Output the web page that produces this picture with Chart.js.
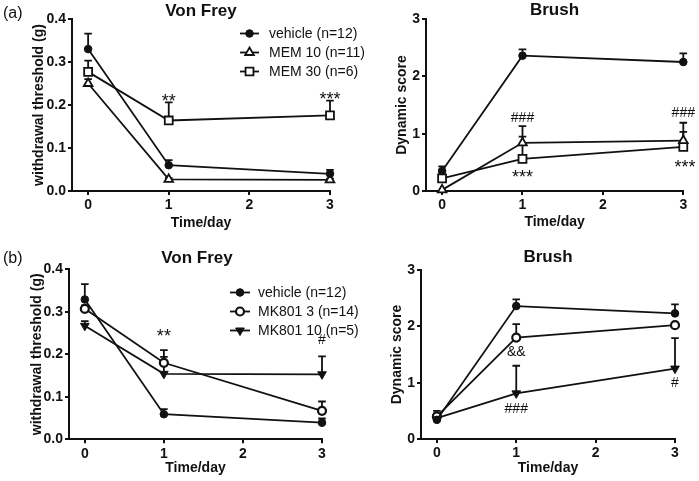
<!DOCTYPE html>
<html><head><meta charset="utf-8">
<script src="https://cdn.jsdelivr.net/npm/chart.js@4.4.1/dist/chart.umd.min.js"></script>
<style>
html,body{margin:0;padding:0;background:#fff;}
#wrap{position:relative;width:699px;height:481px;overflow:hidden;background:#fff;}
canvas{position:absolute;}
.lab{position:absolute;font:16px 'Liberation Sans',Arial,sans-serif;color:#111;line-height:18px;}
</style></head><body>
<div id="wrap">
<canvas id="c1" width="370" height="235" style="left:0px;top:0px"></canvas>
<canvas id="c2" width="349" height="235" style="left:350px;top:0px"></canvas>
<canvas id="c3" width="370" height="246" style="left:0px;top:235px"></canvas>
<canvas id="c4" width="349" height="246" style="left:350px;top:235px"></canvas>
<div class="lab" style="left:3px;top:4px">(a)</div>
<div class="lab" style="left:3px;top:249px">(b)</div>
</div>
<script>
// ---------- data ----------
const days = [0, 1, 3];
const xTicks = [0, 1, 2, 3];
const vfTicks = [0, 0.1, 0.2, 0.3, 0.4];
const brTicks = [0, 1, 2, 3];

const labelsA = ['vehicle (n=12)', 'MEM 10 (n=11)', 'MEM 30 (n=6)'];
const labelsB = ['vehicle (n=12)', 'MK801 3 (n=14)', 'MK801 10 (n=5)'];

// (a) Von Frey
const aVfVehicle = [0.33, 0.06, 0.04];
const aVfVehicleSem = [0.036, 0.012, 0.009];
const aVfMem10 = [0.25, 0.027, 0.026];
const aVfMem10Sem = [0.01, 0.003, 0.003];
const aVfMem30 = [0.277, 0.164, 0.176];
const aVfMem30Sem = [0.026, 0.042, 0.034];
const aVfNotes = [[1, 0.195, '**'], [3, 0.201, '***']];

// (a) Brush
const aBrVehicle = [0.35, 2.36, 2.25];
const aBrVehicleSem = [0.08, 0.11, 0.15];
const aBrMem10 = [0.02, 0.84, 0.88];
const aBrMem10Sem = [0.0, 0.29, 0.31];
const aBrMem30 = [0.22, 0.56, 0.77];
const aBrMem30Sem = [0.07, 0.39, 0.26];
const aBrNotes = [[1, 1.21, '###'], [1, 0.147, '***'], [3, 1.285, '###'], [3.02, 0.32, '***']];

// (b) Von Frey
const bVfVehicle = [0.329, 0.059, 0.039];
const bVfVehicleSem = [0.036, 0.012, 0.010];
const bVfMk3 = [0.307, 0.18, 0.067];
const bVfMk3Sem = [0.008, 0.03, 0.022];
const bVfMk10 = [0.267, 0.154, 0.153];
const bVfMk10Sem = [0.011, 0.04, 0.042];
const bVfNotes = [[1, 0.229, '**'], [3, 0.2235, '#']];

// (b) Brush
const bBrVehicle = [0.34, 2.36, 2.23];
const bBrVehicleSem = [0.16, 0.12, 0.16];
const bBrMk3 = [0.40, 1.80, 2.02];
const bBrMk3Sem = [0.05, 0.24, 0.03];
const bBrMk10 = [0.37, 0.81, 1.25];
const bBrMk10Sem = [0.05, 0.49, 0.54];
const bBrNotes = [[1, 1.47, '&&'], [1, 0.456, '###'], [3, 0.928, '#']];

// ---------- styles ----------
const INK = '#111';
const FONT = "'Liberation Sans', Arial, Helvetica, sans-serif";
const stVehicle = {pointStyle: 'circle', r: 3.8, fill: INK, bw: 1, rot: 0};
const stMem10 = {pointStyle: 'triangle', r: 5, fill: '#fff', bw: 1.8, rot: 0};
const stMem30 = {pointStyle: 'rect', r: 5.6, fill: '#fff', bw: 1.8, rot: 0};
const stMk3 = {pointStyle: 'circle', r: 4, fill: '#fff', bw: 2.2, rot: 0};
const stMk10 = {pointStyle: 'triangle', r: 5, fill: INK, bw: 1, rot: 180};

function drawMarker(ctx, st, x, y) {
  ctx.save();
  ctx.fillStyle = st.fill; ctx.strokeStyle = INK; ctx.lineWidth = st.bw;
  if (Chart.helpers && Chart.helpers.drawPoint) {
    Chart.helpers.drawPoint(ctx, {pointStyle: st.pointStyle, radius: st.r, rotation: st.rot, borderWidth: st.bw}, x, y);
  } else {
    ctx.beginPath(); ctx.arc(x, y, st.r, 0, Math.PI * 2); ctx.fill(); ctx.stroke();
  }
  ctx.restore();
}

const errPlugin = {
  id: 'errbars',
  beforeDatasetsDraw(chart) {
    const {ctx} = chart, xs = chart.scales.x, ys = chart.scales.y;
    ctx.save(); ctx.strokeStyle = INK; ctx.lineWidth = 1.8;
    chart.data.datasets.forEach(ds => {
      ds.data.forEach((p, i) => {
        const e = ds.sem[i]; if (!e) return;
        const px = xs.getPixelForValue(p.x), p0 = ys.getPixelForValue(p.y), p1 = ys.getPixelForValue(p.y + e);
        ctx.beginPath(); ctx.moveTo(px, p0); ctx.lineTo(px, p1);
        ctx.moveTo(px - 3.8, p1); ctx.lineTo(px + 3.8, p1); ctx.stroke();
      });
    });
    ctx.restore();
  }
};

const extrasPlugin = {
  id: 'extras',
  afterDraw(chart) {
    const g = chart.options.plugins.extras;
    const {ctx} = chart, xs = chart.scales.x, ys = chart.scales.y;
    ctx.save();
    // title
    ctx.fillStyle = INK; ctx.textAlign = 'center'; ctx.textBaseline = 'middle';
    ctx.font = 'bold 17px ' + FONT;
    ctx.fillText(g.title, g.titleX, g.titleY);
    // notes
    ctx.textBaseline = 'alphabetic';
    g.notes.forEach(n => {
      ctx.font = (n[2].indexOf('*') >= 0 ? '18px ' : '14px ') + FONT;
      ctx.fillText(n[2], xs.getPixelForValue(n[0]), ys.getPixelForValue(n[1]));
    });
    // legend
    if (g.legend) {
      const L = g.legend;
      chart.data.datasets.forEach((ds, i) => {
        const yy = L.y0 + i * L.dy;
        ctx.strokeStyle = INK; ctx.lineWidth = 1.8;
        ctx.beginPath(); ctx.moveTo(L.x1, yy); ctx.lineTo(L.x2, yy); ctx.stroke();
        drawMarker(ctx, ds.st, (L.x1 + L.x2) / 2, yy);
        ctx.fillStyle = INK; ctx.textAlign = 'left'; ctx.textBaseline = 'middle';
        ctx.font = '14px ' + FONT;
        ctx.fillText(ds.label, L.tx, yy + 1);
      });
    }
    ctx.restore();
  }
};

function makeChart(id, g) {
  const datasets = g.series.map(s => ({
    label: s.label,
    data: days.map((d, i) => ({x: d, y: s.values[i]})),
    sem: s.sem, st: s.st,
    borderColor: INK, borderWidth: 1.8, fill: false, tension: 0, clip: false,
    pointStyle: s.st.pointStyle, pointRadius: s.st.r, pointRotation: s.st.rot,
    pointBackgroundColor: s.st.fill, pointBorderColor: INK, pointBorderWidth: s.st.bw
  }));
  const axisTitleFont = {family: FONT, size: 14, weight: 'bold'};
  const tickFont = {family: FONT, size: 14, weight: 'bold'};
  return new Chart(document.getElementById(id), {
    type: 'line',
    data: {datasets},
    options: {
      responsive: false, animation: false, devicePixelRatio: 1,
      layout: {padding: g.pad},
      plugins: {legend: {display: false}, tooltip: {enabled: false}, title: {display: false},
        extras: {title: g.title, titleX: g.titleX, titleY: g.titleY, notes: g.notes, legend: g.legend}},
      scales: {
        x: {
          type: 'linear', min: -0.2, max: 3,
          afterBuildTicks: sc => { sc.ticks = xTicks.map(v => ({value: v})); },
          afterFit: sc => { sc.height = g.xH; },
          ticks: {color: INK, font: tickFont, padding: 2, autoSkip: false, maxRotation: 0, callback: v => String(v)},
          grid: {drawOnChartArea: false, drawTicks: true, tickLength: 4, color: INK, lineWidth: 2},
          border: {display: true, color: INK, width: 2},
          title: {display: true, text: 'Time/day', color: INK, font: axisTitleFont, padding: {top: 0, bottom: g.xtPad}}
        },
        y: {
          type: 'linear', min: 0, max: g.yMax,
          afterBuildTicks: sc => { sc.ticks = g.yTicks.map(v => ({value: v})); },
          afterFit: sc => { sc.width = g.yW; },
          ticks: {color: INK, font: tickFont, padding: 2, autoSkip: false, callback: v => g.yDec ? Number(v).toFixed(1) : String(v)},
          grid: {drawOnChartArea: false, drawTicks: true, tickLength: 4, color: INK, lineWidth: 2},
          border: {display: true, color: INK, width: 2},
          title: {display: true, text: g.yTitle, color: INK, font: axisTitleFont, padding: {top: g.ytPad, bottom: 0}}
        }
      }
    },
    plugins: [errPlugin, extrasPlugin]
  });
}

makeChart('c1', {
  series: [
    {label: labelsA[0], values: aVfVehicle, sem: aVfVehicleSem, st: stVehicle},
    {label: labelsA[1], values: aVfMem10, sem: aVfMem10Sem, st: stMem10},
    {label: labelsA[2], values: aVfMem30, sem: aVfMem30Sem, st: stMem30}
  ],
  yMax: 0.4, yTicks: vfTicks, yDec: true, yTitle: 'withdrawal threshold (g)',
  pad: {left: 0, top: 19, right: 40, bottom: 0}, yW: 72, xH: 44, ytPad: 30.6, xtPad: 3.6,
  title: 'Von Frey', titleX: 201, titleY: 11, notes: aVfNotes,
  legend: {x1: 240, x2: 259, tx: 269, y0: 33.5, dy: 19}
});
makeChart('c2', {
  series: [
    {label: labelsA[0], values: aBrVehicle, sem: aBrVehicleSem, st: stVehicle},
    {label: labelsA[1], values: aBrMem10, sem: aBrMem10Sem, st: stMem10},
    {label: labelsA[2], values: aBrMem30, sem: aBrMem30Sem, st: stMem30}
  ],
  yMax: 3, yTicks: brTicks, yDec: false, yTitle: 'Dynamic score',
  pad: {left: 0, top: 19, right: 15.7, bottom: 0}, yW: 76, xH: 44, ytPad: 44.1, xtPad: 4.9,
  title: 'Brush', titleX: 204.5, titleY: 10, notes: aBrNotes, legend: null
});
makeChart('c3', {
  series: [
    {label: labelsB[0], values: bVfVehicle, sem: bVfVehicleSem, st: stVehicle},
    {label: labelsB[1], values: bVfMk3, sem: bVfMk3Sem, st: stMk3},
    {label: labelsB[2], values: bVfMk10, sem: bVfMk10Sem, st: stMk10}
  ],
  yMax: 0.4, yTicks: vfTicks, yDec: true, yTitle: 'withdrawal threshold (g)',
  pad: {left: 0, top: 34.3, right: 48, bottom: 0}, yW: 69, xH: 41.7, ytPad: 28.6, xtPad: 4.6,
  title: 'Von Frey', titleX: 197, titleY: 23, notes: bVfNotes,
  legend: {x1: 230, x2: 250, tx: 258, y0: 57.5, dy: 19}
});
makeChart('c4', {
  series: [
    {label: labelsB[0], values: bBrVehicle, sem: bBrVehicleSem, st: stVehicle},
    {label: labelsB[1], values: bBrMk3, sem: bBrMk3Sem, st: stMk3},
    {label: labelsB[2], values: bBrMk10, sem: bBrMk10Sem, st: stMk10}
  ],
  yMax: 3, yTicks: brTicks, yDec: false, yTitle: 'Dynamic score',
  pad: {left: 0, top: 35, right: 24, bottom: 0}, yW: 71, xH: 42, ytPad: 39.1, xtPad: 4.6,
  title: 'Brush', titleX: 198, titleY: 22.7, notes: bBrNotes, legend: null
});
</script>
</body></html>
